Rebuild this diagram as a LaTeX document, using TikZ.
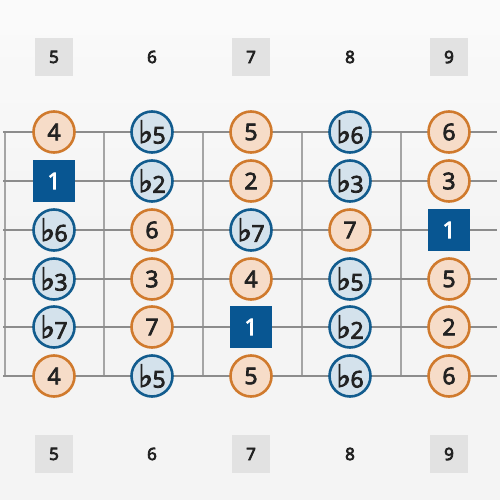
\documentclass[tikz,border=0pt]{standalone}
\usepackage{fontspec}
\setmainfont{Open Sans}
\newfontfamily\notefont{Open Sans}
\newfontfamily\flatfont{DejaVu Sans}
\usetikzlibrary{positioning}

\definecolor{paper}{RGB}{244,244,244}
\definecolor{stringgray}{RGB}{140,140,140}
\definecolor{fretgray}{RGB}{165,165,165}
\definecolor{orangeline}{RGB}{208,122,45}
\definecolor{orangefill}{RGB}{246,220,200}
\definecolor{blueline}{RGB}{18,92,142}
\definecolor{bluefill}{RGB}{212,226,236}
\definecolor{rootblue}{RGB}{8,86,146}
\definecolor{boxgray}{RGB}{226,226,226}
\definecolor{ink}{RGB}{34,34,34}

\newcommand{\flt}{\raisebox{0.5pt}{\scalebox{1.35}{\flatfont\char"266D}}\kern-0.5pt}
\newcommand{\heavyon}{\special{pdf:literal direct 2 Tr 0.8 w}}
\newcommand{\heavyoff}{\special{pdf:literal direct 0 Tr}}

\begin{document}
\begin{tikzpicture}[x=1pt,y=-1pt,
  heavytext/.style={execute at begin node=\heavyon,execute at end node=\heavyoff},
  notebase/.style={circle,minimum size=41pt,inner sep=0pt,line width=2.6pt,text=ink,heavytext,font=\notefont\fontsize{23}{23}\selectfont},
  natural/.style={notebase,draw=orangeline,fill=orangefill},
  flat/.style={notebase,draw=blueline,fill=bluefill},
  root/.style={rectangle,minimum size=42pt,inner sep=0pt,fill=rootblue,text=white,heavytext,font=\notefont\fontsize{23}{23}\selectfont},
  fretnum/.style={minimum size=38pt,inner sep=0pt,text=ink,heavytext,font=\notefont\fontsize{17}{17}\selectfont},
  fretbox/.style={fretnum,fill=boxgray}]

% background paper
\fill[paper] (0,0) rectangle (500,500);
\shade[top color=white,bottom color=paper,opacity=0.6] (0,0) rectangle (500,250);
\useasboundingbox (0,0) rectangle (500,500);

% frets
\foreach \x in {5,104,203,302,401}
  \draw[fretgray,line width=1.6pt] (\x,132) -- (\x,376);
% strings
\foreach \y in {132,181,230,279,327,376}
  \draw[stringgray,line width=2.6pt] (3,\y) -- (497,\y);

% fret numbers, top and bottom
\foreach \n/\x/\s in {5/54/fretbox,6/152/fretnum,7/251/fretbox,8/350/fretnum,9/449/fretbox}{
  \node[\s] (top\n) at (\x,57) {\n};
  \node[\s] (bot\n) at (\x,454) {\n};
}

% notes: string 1 (top)
\node[natural] (s1f5) at (54,132) {4};
\node[flat] (s1f6) at (152,132) {\flt5};
\node[natural] (s1f7) at (251,132) {5};
\node[flat] (s1f8) at (350,132) {\flt6};
\node[natural] (s1f9) at (449,132) {6};
% string 2
\node[root] (s2f5) at (54,181) {1};
\node[flat] (s2f6) at (152,181) {\flt2};
\node[natural] (s2f7) at (251,181) {2};
\node[flat] (s2f8) at (350,181) {\flt3};
\node[natural] (s2f9) at (449,181) {3};
% string 3
\node[flat] (s3f5) at (54,230) {\flt6};
\node[natural] (s3f6) at (152,230) {6};
\node[flat] (s3f7) at (251,230) {\flt7};
\node[natural] (s3f8) at (350,230) {7};
\node[root] (s3f9) at (449,230) {1};
% string 4
\node[flat] (s4f5) at (54,279) {\flt3};
\node[natural] (s4f6) at (152,279) {3};
\node[natural] (s4f7) at (251,279) {4};
\node[flat] (s4f8) at (350,279) {\flt5};
\node[natural] (s4f9) at (449,279) {5};
% string 5
\node[flat] (s5f5) at (54,327) {\flt7};
\node[natural] (s5f6) at (152,327) {7};
\node[root] (s5f7) at (251,327) {1};
\node[flat] (s5f8) at (350,327) {\flt2};
\node[natural] (s5f9) at (449,327) {2};
% string 6 (bottom)
\node[natural] (s6f5) at (54,376) {4};
\node[flat] (s6f6) at (152,376) {\flt5};
\node[natural] (s6f7) at (251,376) {5};
\node[flat] (s6f8) at (350,376) {\flt6};
\node[natural] (s6f9) at (449,376) {6};

\end{tikzpicture}
\end{document}
